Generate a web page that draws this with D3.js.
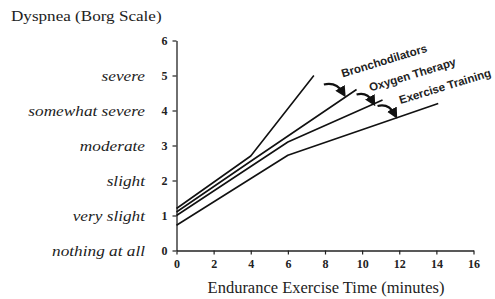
<!DOCTYPE html>
<html>
<head>
<meta charset="UTF-8"/>
<script src="https://cdn.jsdelivr.net/npm/d3@7"></script>
<style>
  body { margin: 0; background: #fff; }
</style>
</head>
<body>
<script>
// dyspnea vs endurance time, one line per treatment

var seriesNames = ["Bronchodilators", "Oxygen Therapy", "Exercise Training", "Baseline"];
var bronchPts = [[0, 1.2], [4, 2.7], [7.4, 5.0]];
var oxygenPts = [[0, 1.1], [4, 2.55], [9.7, 4.6]];
var exercisePts = [[0, 1.0], [6, 3.1], [11.1, 4.3]];
var baselinePts = [[0, 0.72], [6, 2.72], [14.1, 4.2]];

var yTicks = [0, 1, 2, 3, 4, 5, 6];
var yWords = ["nothing at all", "very slight", "slight", "moderate", "somewhat severe", "severe", ""];
var xTicks = [0, 2, 4, 6, 8, 10, 12, 14, 16];

var width = 495, height = 299;

var svg = d3.select("body").append("svg")
  .attr("width", width)
  .attr("height", height);

var x = d3.scaleLinear().domain([0, 16]).range([176.5, 473.5]);
var y = d3.scaleLinear().domain([0, 6]).range([250.5, 40.5]);

// axes
var yAxis = svg.append("g")
  .attr("transform", "translate(" + x(0) + ",0)")
  .call(d3.axisLeft(y).tickValues(yTicks).tickSize(4).tickSizeOuter(0).tickFormat(d3.format("d")));
var xAxis = svg.append("g")
  .attr("transform", "translate(0," + y(0) + ")")
  .call(d3.axisBottom(x).tickValues(xTicks).tickSize(4).tickSizeOuter(0).tickFormat(d3.format("d")));

[yAxis, xAxis].forEach(function(ax){
  ax.select(".domain").attr("stroke", "#222").attr("stroke-width", 1.3);
  ax.selectAll(".tick line").attr("stroke", "#222").attr("stroke-width", 1.2);
  ax.selectAll(".tick text")
    .attr("fill", "#222")
    .attr("font-family", "Liberation Serif, serif")
    .attr("font-weight", "bold")
    .attr("font-size", 12);
});
yAxis.selectAll(".tick text").attr("x", -9);
xAxis.selectAll(".tick text").attr("y", 9);

// verbal Borg labels (wide italic, stretched a bit)
svg.append("g").selectAll("text")
  .data(yTicks)
  .enter().append("text")
    .attr("transform", function(d){ return "translate(145," + y(d) + ") scale(1.15,1)"; })
    .attr("dy", "0.35em")
    .attr("text-anchor", "end")
    .attr("font-family", "Liberation Serif, serif")
    .attr("font-style", "italic")
    .attr("font-size", 15)
    .attr("fill", "#222")
    .text(function(d, i){ return yWords[i]; });

// titles
svg.append("text")
  .attr("transform", "translate(11,21) scale(1.14,1)")
  .attr("font-family", "Liberation Serif, serif")
  .attr("font-size", 15)
  .attr("fill", "#222")
  .text("Dyspnea (Borg Scale)");

svg.append("text")
  .attr("x", (x(0) + x(16)) / 2 + 1).attr("y", 293)
  .attr("text-anchor", "middle")
  .attr("font-family", "Liberation Serif, serif")
  .attr("font-size", 16.5)
  .attr("fill", "#222")
  .text("Endurance Exercise Time (minutes)");

// the lines
var allSeries = [bronchPts, oxygenPts, exercisePts, baselinePts];
var line = d3.line()
  .x(function(d){ return x(d[0]); })
  .y(function(d){ return y(d[1]); });

svg.append("g").selectAll("path")
  .data(allSeries)
  .enter().append("path")
    .attr("d", line)
    .attr("fill", "none")
    .attr("stroke", "#111")
    .attr("stroke-width", 1.6)
    .attr("stroke-linejoin", "round");

// rotated labels next to the line ends
var labelOffsets = [[29, 2], [14, 2], [18, 4]];
svg.append("g").selectAll("text")
  .data(seriesNames.slice(0, 3))
  .enter().append("text")
    .attr("transform", function(d, i){
      var e = allSeries[i][allSeries[i].length - 1];
      var px = x(e[0]) + labelOffsets[i][0], py = y(e[1]) + labelOffsets[i][1];
      return "translate(" + px + "," + py + ") rotate(-17)";
    })
    .attr("font-family", "Liberation Sans, Arial, sans-serif")
    .attr("font-weight", "bold")
    .attr("font-size", 11.5)
    .attr("fill", "#222")
    .text(function(d){ return d; });

// curved shift arrows
svg.append("defs").append("marker")
  .attr("id", "head")
  .attr("viewBox", "0 0 10 10")
  .attr("refX", 5).attr("refY", 5)
  .attr("markerWidth", 5).attr("markerHeight", 5)
  .attr("orient", "auto")
  .append("path").attr("d", "M0,0 L10,5 L0,10 z").attr("fill", "#111");

var arrowOffsets = [[[10, 9], [29, 17]], [[0, 5], [16, 12]], [[-5, 6], [12, 14]]];
svg.append("g").selectAll("path")
  .data(arrowOffsets)
  .enter().append("path")
    .attr("d", function(o, i){
      var e = allSeries[i][allSeries[i].length - 1];
      var x0 = x(e[0]) + o[0][0], y0 = y(e[1]) + o[0][1];
      var x1 = x(e[0]) + o[1][0], y1 = y(e[1]) + o[1][1];
      var cx = x0 + (x1 - x0) * 0.65, cy = y0 - 3;
      return "M" + x0 + "," + y0 + " Q" + cx + "," + cy + " " + x1 + "," + y1;
    })
    .attr("fill", "none")
    .attr("stroke", "#111")
    .attr("stroke-width", 2.2)
    .attr("marker-end", "url(#head)");
</script>
</body>
</html>
